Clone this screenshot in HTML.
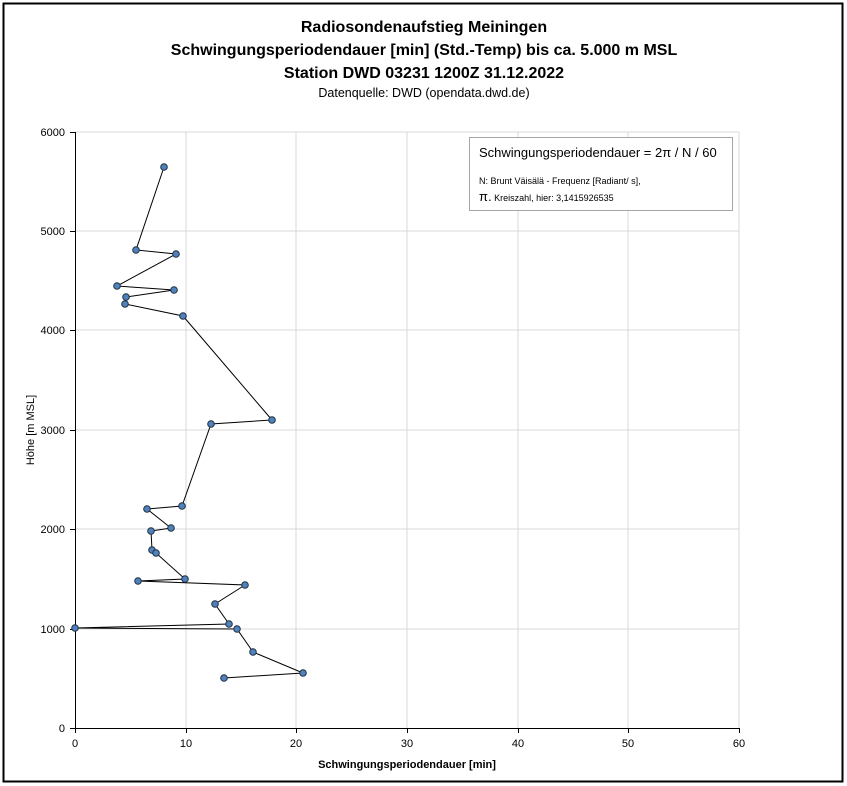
<!DOCTYPE html>
<html><head><meta charset="utf-8"><style>
html,body{margin:0;padding:0;background:#fff;}
svg{display:block;font-family:"Liberation Sans",Calibri,sans-serif;}
</style></head><body>
<svg width="847" height="786" viewBox="0 0 847 786" xmlns="http://www.w3.org/2000/svg">
<rect x="0" y="0" width="847" height="786" fill="#fff"/>
<rect x="3.5" y="3.5" width="839" height="778" fill="#fff" stroke="#000" stroke-width="2"/>
<g text-anchor="middle" font-weight="bold" font-size="16" fill="#000">
<text x="424" y="32">Radiosondenaufstieg Meiningen</text>
<text x="424" y="55">Schwingungsperiodendauer [min] (Std.-Temp) bis ca. 5.000 m MSL</text>
<text x="424" y="78">Station DWD 03231 1200Z 31.12.2022</text>
</g>
<text x="424" y="97" text-anchor="middle" font-size="12.5">Datenquelle: DWD (opendata.dwd.de)</text>
<g stroke="#d9d9d9" stroke-width="1">
<line x1="186" y1="132" x2="186" y2="728"/><line x1="296" y1="132" x2="296" y2="728"/>
<line x1="407" y1="132" x2="407" y2="728"/><line x1="518" y1="132" x2="518" y2="728"/>
<line x1="628" y1="132" x2="628" y2="728"/><line x1="739" y1="132" x2="739" y2="728"/>
<line x1="75" y1="132" x2="739" y2="132"/><line x1="75" y1="231" x2="739" y2="231"/>
<line x1="75" y1="330" x2="739" y2="330"/><line x1="75" y1="430" x2="739" y2="430"/>
<line x1="75" y1="529" x2="739" y2="529"/><line x1="75" y1="629" x2="739" y2="629"/>
</g>
<g stroke="#000" stroke-width="1">
<line x1="75.5" y1="132" x2="75.5" y2="728"/><line x1="75" y1="728.5" x2="739" y2="728.5"/>
<line x1="70" y1="132.5" x2="75" y2="132.5"/><line x1="70" y1="231.5" x2="75" y2="231.5"/>
<line x1="70" y1="330.5" x2="75" y2="330.5"/><line x1="70" y1="430.5" x2="75" y2="430.5"/>
<line x1="70" y1="529.5" x2="75" y2="529.5"/><line x1="70" y1="629.5" x2="75" y2="629.5"/>
<line x1="70" y1="728.5" x2="75" y2="728.5"/>
<line x1="75.5" y1="728" x2="75.5" y2="733"/><line x1="186.5" y1="728" x2="186.5" y2="733"/>
<line x1="296.5" y1="728" x2="296.5" y2="733"/><line x1="407.5" y1="728" x2="407.5" y2="733"/>
<line x1="518.5" y1="728" x2="518.5" y2="733"/><line x1="628.5" y1="728" x2="628.5" y2="733"/>
<line x1="739.5" y1="728" x2="739.5" y2="733"/>
</g>
<g font-size="11" text-anchor="end">
<text x="65" y="136">6000</text><text x="65" y="235">5000</text><text x="65" y="334">4000</text>
<text x="65" y="434">3000</text><text x="65" y="533">2000</text><text x="65" y="633">1000</text>
<text x="65" y="732">0</text>
</g>
<g font-size="11" text-anchor="middle">
<text x="75" y="747">0</text><text x="186" y="747">10</text><text x="296" y="747">20</text>
<text x="407" y="747">30</text><text x="518" y="747">40</text><text x="628" y="747">50</text>
<text x="739" y="747">60</text>
</g>
<text x="407" y="768" text-anchor="middle" font-size="11" font-weight="bold">Schwingungsperiodendauer [min]</text>
<text transform="translate(34,430) rotate(-90)" text-anchor="middle" font-size="11">Höhe [m MSL]</text>
<rect x="469.5" y="137.5" width="263" height="73" fill="#fff" stroke="#a6a6a6"/>
<text x="479" y="157" font-size="13">Schwingungsperiodendauer = 2π / N / 60</text>
<text x="479" y="184" font-size="9">N: Brunt Väisälä - Frequenz [Radiant/ s],</text>
<text x="479" y="201" font-size="9"><tspan font-size="13">π.</tspan> Kreiszahl, hier: 3,1415926535</text>
<polyline fill="none" stroke="#000" stroke-width="1" points="164,167 136,250 176,254 117,286 174,290 126,297 125,304 183,316 272,420 211,424 182,506 147,509 171,528 151,531 152,550 156,553 185,579 138,581 245,585 215,604 229,624 75,628 237,629 253,652 303,673 224,678"/>
<g fill="#4f81bd" stroke="#1f3040" stroke-width="1">
<circle cx="164" cy="167" r="3.3"/><circle cx="136" cy="250" r="3.3"/><circle cx="176" cy="254" r="3.3"/>
<circle cx="117" cy="286" r="3.3"/><circle cx="174" cy="290" r="3.3"/><circle cx="126" cy="297" r="3.3"/>
<circle cx="125" cy="304" r="3.3"/><circle cx="183" cy="316" r="3.3"/><circle cx="272" cy="420" r="3.3"/>
<circle cx="211" cy="424" r="3.3"/><circle cx="182" cy="506" r="3.3"/><circle cx="147" cy="509" r="3.3"/>
<circle cx="171" cy="528" r="3.3"/><circle cx="151" cy="531" r="3.3"/><circle cx="152" cy="550" r="3.3"/>
<circle cx="156" cy="553" r="3.3"/><circle cx="185" cy="579" r="3.3"/><circle cx="138" cy="581" r="3.3"/>
<circle cx="245" cy="585" r="3.3"/><circle cx="215" cy="604" r="3.3"/><circle cx="229" cy="624" r="3.3"/>
<circle cx="75" cy="628" r="3.3"/><circle cx="237" cy="629" r="3.3"/><circle cx="253" cy="652" r="3.3"/>
<circle cx="303" cy="673" r="3.3"/><circle cx="224" cy="678" r="3.3"/>
</g>
</svg>
</body></html>
